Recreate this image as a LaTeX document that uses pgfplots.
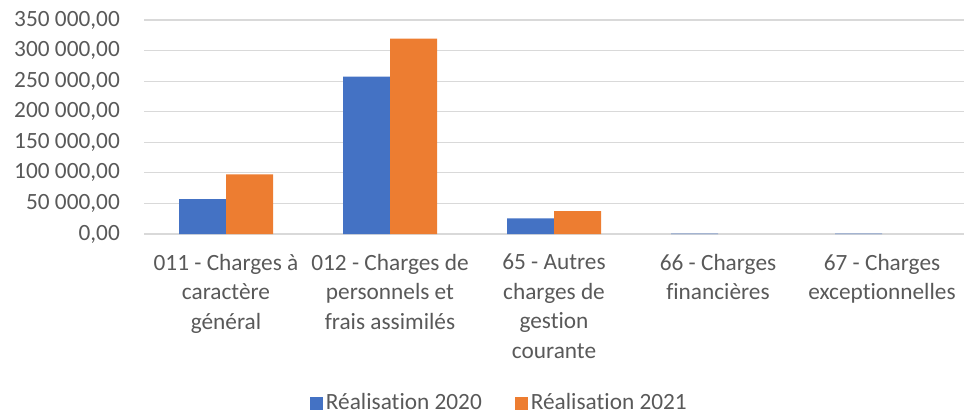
\documentclass[border=0pt]{standalone}
\usepackage{fontspec}
\setmainfont{Carlito}[Ligatures={NoCommon}]
\usepackage{pgfplots}
\pgfplotsset{compat=1.18}
\definecolor{cblue}{HTML}{4472C4}
\definecolor{corange}{HTML}{ED7D31}
\definecolor{cgrid}{HTML}{D9D9D9}
\definecolor{ctext}{HTML}{595959}
\begin{document}
\fontsize{23.3}{29.5}\selectfont
\begin{tikzpicture}
\path[use as bounding box] (0,0) rectangle (964pt,416pt);
\begin{axis}[
  at={(144pt,182pt)}, anchor=south west,
  scale only axis, width=820pt, height=214pt,
  ybar=0pt, bar width=47pt,
  xmin=-0.5, xmax=4.5, ymin=0, ymax=350000,
  scaled y ticks=false,
  axis line style={draw=none},
  ymajorgrids, grid style={cgrid, line width=1.2pt},
  major tick length=0pt,
  xtick={0,1,2,3,4},
  xticklabels={{011 - Charges à\\caractère\\général},{012 - Charges de\\personnels et\\frais assimilés},{65 - Autres\\charges de\\gestion\\courante},{66 - Charges\\financières},{67 - Charges\\exceptionnelles}},
  xticklabel style={align=center, inner sep=0pt, yshift=-20pt, text=ctext, font=\fontsize{23.3}{29.5}\selectfont},
  ytick={0,50000,100000,150000,200000,250000,300000,350000},
  yticklabels={{0,00},{50 000,00},{100 000,00},{150 000,00},{200 000,00},{250 000,00},{300 000,00},{350 000,00}},
  yticklabel style={inner sep=0pt, xshift=-24pt, text=ctext, font=\fontsize{23.3}{29.5}\selectfont},
  legend columns=2,
  legend style={at={(0.434,-0.79)}, anchor=center, draw=none, fill=none,
    font=\fontsize{23.3}{29.5}\selectfont, text=ctext,
    nodes={inner xsep=3pt, inner ysep=0pt},
    /tikz/every even column/.append style={column sep=30pt}},
  legend image code/.code={\fill[#1] (0pt,-6.5pt) rectangle (13pt,6.5pt);},
]
\addplot[fill=cblue, draw=none] coordinates {(0,57000) (1,257300) (2,25600) (3,600) (4,600)};
\addplot[fill=corange, draw=none] coordinates {(0,97600) (1,319500) (2,37600)};
\legend{Réalisation 2020, Réalisation 2021}
\end{axis}
\end{tikzpicture}
\end{document}
